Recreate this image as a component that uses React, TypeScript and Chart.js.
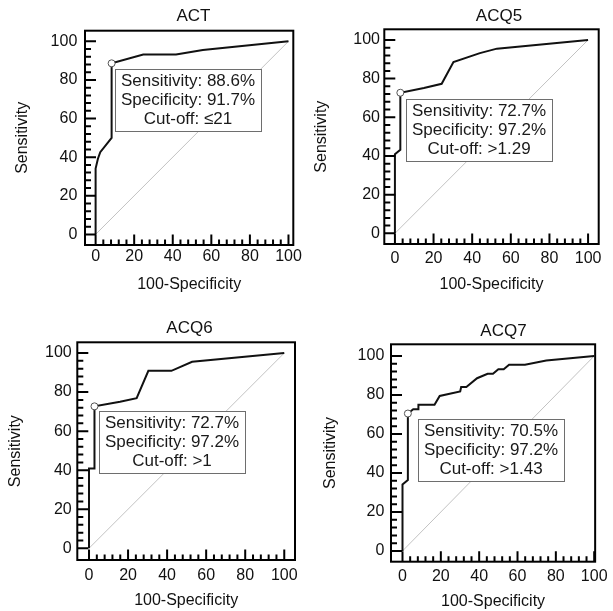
import React, { useEffect, useRef } from 'react';
import { Chart, registerables } from 'chart.js';

Chart.register(...registerables);

// ---------- data ----------
const panelTitles = ['ACT', 'ACQ5', 'ACQ6', 'ACQ7'];

// 100-Specificity (x) and Sensitivity (y) of each ROC curve
const actFpr = [0, 0, 1.2, 2.4, 8.3, 8.3, 24.7, 41.7, 55.6, 100];
const actSens = [0, 34.1, 39.2, 42.6, 50.0, 88.6, 93.2, 93.2, 95.5, 100];

const acq5Fpr = [0, 0, 2.8, 2.8, 15.0, 24.2, 30.3, 44.0, 52.8, 100];
const acq5Sens = [0, 40.9, 43.2, 72.7, 75.2, 77.3, 88.6, 93.2, 95.5, 100];

const acq6Fpr = [0, 0, 2.8, 2.8, 15.9, 24.4, 30.4, 42.2, 52.8, 100];
const acq6Sens = [0, 40.9, 40.9, 72.7, 75.0, 76.9, 90.9, 90.9, 95.5, 100];

const acq7Fpr = [0, 0, 2.8, 2.8, 5.6, 8.3, 8.3, 16.7, 19.4, 30.1, 30.6, 33.3, 38.9, 44.4, 47.2, 50.0, 52.8, 55.6, 63.9, 75.0, 100];
const acq7Sens = [0, 34.1, 36.4, 70.5, 72.7, 72.7, 75.0, 75.0, 79.5, 81.8, 84.1, 84.1, 88.6, 90.9, 90.9, 93.2, 93.2, 95.5, 95.5, 97.7, 100];

const rocFpr = [actFpr, acq5Fpr, acq6Fpr, acq7Fpr];
const rocSens = [actSens, acq5Sens, acq6Sens, acq7Sens];

// optimal cut-off statistics
const cutSensitivity = [88.6, 72.7, 72.7, 70.5];
const cutSpecificity = [91.7, 97.2, 97.2, 97.2];
const cutValues = ['\u226421', '>1.29', '>1', '>1.43'];

const tickValues = [0, 20, 40, 60, 80, 100];
const xAxisTitle = '100-Specificity';
const yAxisTitle = 'Sensitivity';

// ---------- layout (pixels, per panel) ----------
const FONT = '"Liberation Sans", Arial, Helvetica, sans-serif';

const panelLayouts = [
  { left: 0, top: 0, w: 306, h: 300, area: { l: 85, t: 30.7, r: 293.3, b: 245 }, xr: [-5.5, 102.5], yr: [-5.5, 105.5],
    titleX: 193.5, titleY: 16.5, yPad: 7.7, xPad: 2.1, yTitlePad: 15, xTitlePad: 7, dx: 3.7, dy: 5.7 },
  { left: 306, top: 0, w: 307, h: 300, area: { l: 78.3, t: 29.3, r: 292.7, b: 244 }, xr: [-5.5, 105.5], yr: [-5.5, 105.5],
    titleX: 193, titleY: 16, yPad: 4.3, xPad: 4.7, yTitlePad: 7.8, xTitlePad: 7.5, dx: 5.7, dy: 6.7 },
  { left: 0, top: 300, w: 306, h: 311, area: { l: 77.3, t: 42.3, r: 295, b: 560 - 300 }, xr: [-6, 105.5], yr: [-6, 105.5],
    titleX: 189.5, titleY: 28.3, yPad: 5.6, xPad: 6.1, yTitlePad: 7.5, xTitlePad: 2.8, dx: 5, dy: 5 },
  { left: 306, top: 300, w: 307, h: 311, area: { l: 85, t: 44.3, r: 293.3, b: 261.7 }, xr: [-6, 100.5], yr: [-5.5, 106],
    titleX: 197.5, titleY: 31.7, yPad: 6.7, xPad: 5.4, yTitlePad: 17, xTitlePad: 1, dx: 10.4, dy: 5.7 },
];

const rocDecor = {
  id: 'rocDecor',
  afterDatasetsDraw(chart: any, _args: any, opts: any) {
    const { ctx } = chart;
    const xs = chart.scales.x;
    const ys = chart.scales.y;
    const px = xs.getPixelForValue(opts.pointX);
    const py = ys.getPixelForValue(opts.pointY);
    ctx.save();
    ctx.font = `17px ${FONT}`;
    const w = Math.round(Math.max(...opts.lines.map((l: string) => ctx.measureText(l).width)) + 12);
    const bx = Math.round(px + opts.dx);
    const by = Math.round(py + opts.dy);
    const bh = 62;
    ctx.fillStyle = '#ffffff';
    ctx.fillRect(bx, by, w, bh);
    ctx.strokeStyle = '#6e6e6e';
    ctx.lineWidth = 1;
    ctx.strokeRect(bx + 0.5, by + 0.5, w, bh);
    ctx.fillStyle = '#1a1a1a';
    ctx.textAlign = 'center';
    ctx.textBaseline = 'middle';
    opts.lines.forEach((l: string, i: number) => ctx.fillText(l, bx + w / 2, by + 12 + i * 19));
    ctx.restore();
  },
  afterDraw(chart: any, _args: any, opts: any) {
    const { ctx, chartArea } = chart;
    const xs = chart.scales.x;
    const ys = chart.scales.y;
    ctx.save();
    ctx.strokeStyle = '#000';
    ctx.lineWidth = 2;
    // ticks (inside)
    ctx.beginPath();
    for (let v = 0; v <= 100; v += 4) {
      const major = tickValues.includes(v);
      const yy = ys.getPixelForValue(v);
      ctx.moveTo(chartArea.left, yy);
      ctx.lineTo(chartArea.left + (major ? 11 : 6), yy);
      const xx = xs.getPixelForValue(v);
      ctx.moveTo(xx, chartArea.bottom);
      ctx.lineTo(xx, chartArea.bottom - (major ? 10.5 : 5.5));
    }
    ctx.stroke();
    // frame
    ctx.strokeRect(chartArea.left, chartArea.top, chartArea.right - chartArea.left, chartArea.bottom - chartArea.top);
    // title
    ctx.fillStyle = '#111';
    ctx.font = `17px ${FONT}`;
    ctx.textAlign = 'center';
    ctx.textBaseline = 'middle';
    ctx.fillText(opts.title, opts.titleX, opts.titleY);
    ctx.restore();
  },
};

function RocPanel({ idx }: { idx: number }) {
  const ref = useRef<HTMLCanvasElement | null>(null);
  const L = panelLayouts[idx];
  useEffect(() => {
    if (!ref.current) return;
    const a = L.area;
    const fpr = rocFpr[idx];
    const sens = rocSens[idx];
    const pointX = +(100 - cutSpecificity[idx]).toFixed(1);
    const pointY = cutSensitivity[idx];
    const tickFont = { family: FONT, size: 16 };
    const titleFont = { family: FONT, size: 16, lineHeight: 1 };
    const chart = new Chart(ref.current, {
      type: 'scatter',
      data: {
        datasets: [
          {
            data: [{ x: pointX, y: pointY }],
            pointRadius: 3.5,
            pointBackgroundColor: '#ffffff',
            pointBorderColor: '#555555',
            pointBorderWidth: 1,
            showLine: false,
          },
          {
            data: fpr.map((x, i) => ({ x, y: sens[i] })),
            showLine: true,
            borderColor: '#111111',
            borderWidth: 2,
            pointRadius: 0,
            tension: 0,
            fill: false,
          },
          {
            data: [{ x: 0, y: 0 }, { x: 100, y: 100 }],
            showLine: true,
            borderColor: '#c2c2c2',
            borderWidth: 1,
            pointRadius: 0,
            fill: false,
          },
        ],
      },
      options: {
        responsive: false,
        animation: false,
        devicePixelRatio: 1,
        events: [],
        layout: { padding: { top: a.t, right: L.w - a.r, bottom: 0, left: 0 } },
        plugins: {
          legend: { display: false },
          tooltip: { enabled: false },
          title: { display: false },
          rocDecor: {
            title: panelTitles[idx],
            titleX: L.titleX,
            titleY: L.titleY,
            pointX,
            pointY,
            dx: L.dx,
            dy: L.dy,
            lines: [
              `Sensitivity: ${cutSensitivity[idx].toFixed(1)}%`,
              `Specificity: ${cutSpecificity[idx].toFixed(1)}%`,
              `Cut-off: ${cutValues[idx]}`,
            ],
          },
        } as any,
        scales: {
          x: {
            type: 'linear',
            min: L.xr[0],
            max: L.xr[1],
            afterBuildTicks: (s: any) => { s.ticks = tickValues.map((v) => ({ value: v })); },
            afterFit: (s: any) => { s.height = L.h - a.b; },
            grid: { display: false, drawTicks: false },
            border: { display: false },
            ticks: { padding: L.xPad, font: tickFont, color: '#111', autoSkip: false, maxRotation: 0, minRotation: 0 },
            title: { display: true, text: xAxisTitle, font: titleFont, color: '#111', padding: { top: 0, bottom: L.xTitlePad } },
          },
          y: {
            type: 'linear',
            min: L.yr[0],
            max: L.yr[1],
            afterBuildTicks: (s: any) => { s.ticks = tickValues.map((v) => ({ value: v })); },
            afterFit: (s: any) => { s.width = a.l; },
            grid: { display: false, drawTicks: false },
            border: { display: false },
            ticks: { padding: L.yPad, font: tickFont, color: '#111', autoSkip: false },
            title: { display: true, text: yAxisTitle, font: titleFont, color: '#111', padding: { top: L.yTitlePad, bottom: 0 } },
          },
        },
      } as any,
      plugins: [rocDecor as any],
    });
    return () => chart.destroy();
  }, [idx]);
  return (
    <canvas
      ref={ref}
      width={L.w}
      height={L.h}
      style={{ position: 'absolute', left: L.left, top: L.top, width: L.w, height: L.h }}
    />
  );
}

export default function App() {
  return (
    <div style={{ position: 'absolute', left: 0, top: 0, width: 613, height: 611, background: '#fff', overflow: 'hidden' }}>
      {panelTitles.map((_, i) => (
        <RocPanel key={i} idx={i} />
      ))}
    </div>
  );
}
